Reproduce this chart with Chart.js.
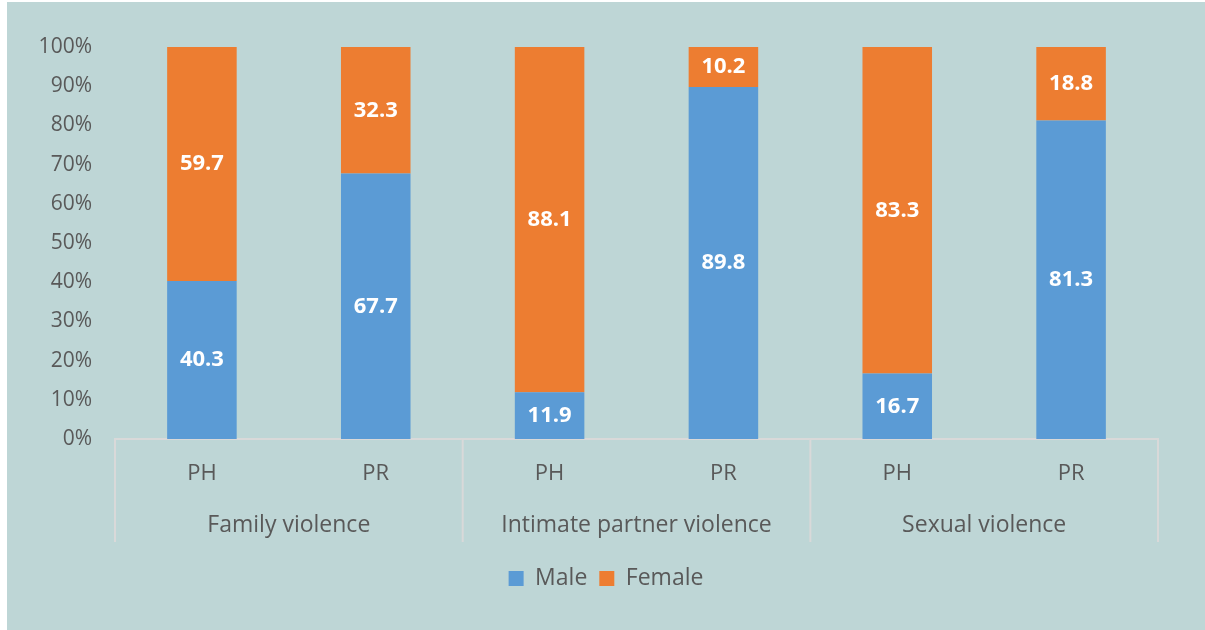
<!DOCTYPE html>
<html>
<head>
<meta charset="utf-8">
<script src="https://cdn.jsdelivr.net/npm/chart.js@4.4.0/dist/chart.umd.min.js"></script>
<style>
  html, body { margin: 0; padding: 0; background: #ffffff; }
  #box { position: absolute; left: 7px; top: 2px; width: 1198px; height: 628px; background: #bed6d6; }
  canvas { display: block; }
</style>
</head>
<body>
<div id="box"><canvas id="c" width="1198" height="628"></canvas></div>
<script>
const categories = ["PH", "PR", "PH", "PR", "PH", "PR"];
const groups = ["Family violence", "Intimate partner violence", "Sexual violence"];
const maleValues = [40.3, 67.7, 11.9, 89.8, 16.7, 81.3];
const femaleValues = [59.7, 32.3, 88.1, 10.2, 83.3, 18.8];
const yTicks = [0, 10, 20, 30, 40, 50, 60, 70, 80, 90, 100];

const FONT = "'Open Sans'";
const TEXT = "#595959";
const LINE = "#d9d9d9";

const totals = maleValues.map((v, i) => v + femaleValues[i]);
const malePct = maleValues.map((v, i) => v / totals[i] * 100);
const femalePct = femaleValues.map((v, i) => v / totals[i] * 100);

const labelPlugin = {
  id: "barLabels",
  afterDatasetsDraw(chart) {
    const ctx = chart.ctx;
    ctx.save();
    ctx.font = "bold 22px " + FONT;
    ctx.fillStyle = "#ffffff";
    ctx.textAlign = "center";
    ctx.textBaseline = "middle";
    chart.data.datasets.forEach((ds, di) => {
      const meta = chart.getDatasetMeta(di);
      meta.data.forEach((bar, i) => {
        const y = (bar.y + bar.base) / 2;
        ctx.fillText(ds.raw[i].toFixed(1), bar.x, y);
      });
    });
    ctx.restore();
  }
};

const groupPlugin = {
  id: "groupAxis",
  afterDraw(chart) {
    const ctx = chart.ctx;
    const x = chart.scales.x;
    const area = chart.chartArea;
    const per = categories.length / groups.length;
    ctx.save();
    ctx.strokeStyle = LINE;
    ctx.lineWidth = 2;
    const bottom = area.bottom + 103;
    for (let g = 0; g <= groups.length; g++) {
      let px;
      if (g === 0) px = area.left;
      else if (g === groups.length) px = area.right;
      else px = (x.getPixelForValue(g * per - 1) + x.getPixelForValue(g * per)) / 2;
      ctx.beginPath();
      ctx.moveTo(px, area.bottom);
      ctx.lineTo(px, bottom);
      ctx.stroke();
    }
    ctx.fillStyle = TEXT;
    ctx.font = "23px " + FONT;
    ctx.textAlign = "center";
    ctx.textBaseline = "middle";
    groups.forEach((gName, g) => {
      const cx = (x.getPixelForValue(g * per) + x.getPixelForValue(g * per + per - 1)) / 2;
      ctx.fillText(gName, cx, area.bottom + 86);
    });
    ctx.restore();
  }
};

new Chart(document.getElementById("c"), {
  type: "bar",
  data: {
    labels: categories,
    datasets: [
      { label: "Male", data: malePct, raw: maleValues, backgroundColor: "#5b9bd5", barPercentage: 0.4, categoryPercentage: 1.0 },
      { label: "Female", data: femalePct, raw: femaleValues, backgroundColor: "#ed7d31", barPercentage: 0.4, categoryPercentage: 1.0 }
    ]
  },
  options: {
    responsive: false,
    animation: false,
    layout: { padding: { top: 45, right: 0, bottom: 30, left: 0 } },
    plugins: {
      legend: {
        position: "bottom",
        labels: { font: { family: "Open Sans", size: 23 }, color: TEXT, boxWidth: 15, boxHeight: 15, padding: 12 }
      },
      tooltip: { enabled: false }
    },
    scales: {
      x: {
        stacked: true,
        grid: { display: false },
        border: { display: true, color: LINE, width: 2 },
        ticks: { font: { family: "Open Sans", size: 22 }, color: TEXT, padding: 14 },
        afterFit(scale) { scale.height = 116; }
      },
      y: {
        stacked: true,
        min: 0, max: 100,
        afterBuildTicks(scale) { scale.ticks = yTicks.map(v => ({ value: v })); },
        grid: { display: false, drawTicks: false },
        border: { display: false },
        ticks: { font: { family: "Open Sans", size: 21 }, color: TEXT, padding: 23, callback: v => v + "%" },
        afterFit(scale) { scale.width = 108; }
      },
      yRight: {
        position: "right",
        min: 0, max: 100,
        grid: { display: false, drawTicks: false },
        border: { display: false },
        ticks: { display: false },
        afterFit(scale) { scale.width = 47; }
      }
    }
  },
  plugins: [labelPlugin, groupPlugin]
});
</script>
</body>
</html>
